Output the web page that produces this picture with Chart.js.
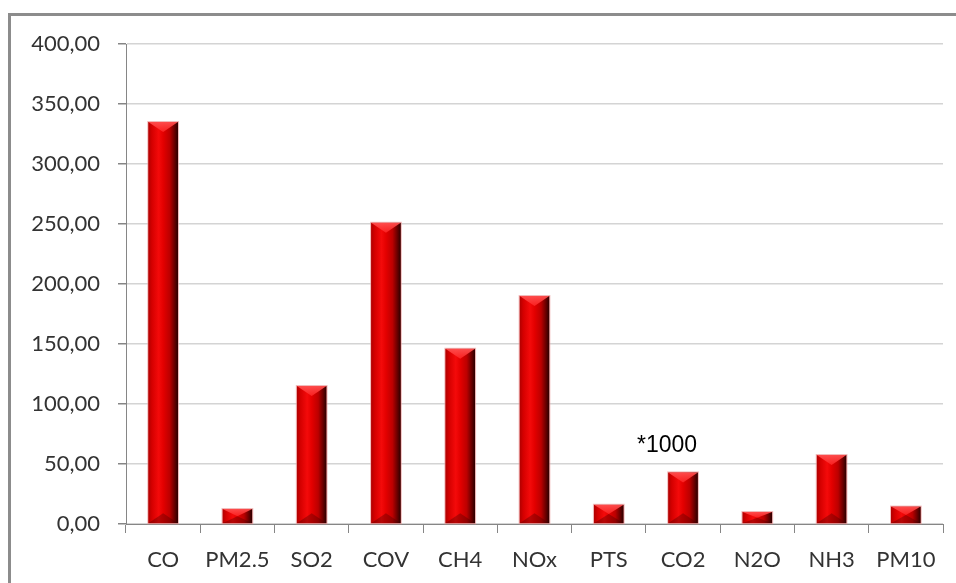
<!DOCTYPE html>
<html>
<head>
<meta charset="utf-8">
<script src="https://cdn.jsdelivr.net/npm/chart.js@4.4.1/dist/chart.umd.min.js"></script>
<style>
    html, body { margin: 0; padding: 0; background: #fff; overflow: hidden; }
    #chart { display: block; }
</style>
</head>
<body>
<canvas id="chart" width="956" height="583"></canvas>
<script>
// Données
const categories = ['CO', 'PM2.5', 'SO2', 'COV', 'CH4', 'NOx', 'PTS', 'CO2', 'N2O', 'NH3', 'PM10'];
const emissions  = [335, 12.5, 115, 251, 146, 190, 16, 43, 10, 57.5, 14.5];
const yTicks     = [0, 50, 100, 150, 200, 250, 300, 350, 400];
const noteText   = '*1000';
const noteIndex  = 7;   // au-dessus de CO2
const noteValue  = 60;

const AXIS_GREY = '#868686';
const GRID_GREY = '#d4d4d4';
const LABEL_FONT = "Lato, 'Open Sans', sans-serif";

/**
 * Cadre gris du graphique (bords gauche et haut, le reste sort de l'image)
 */
const frame = {
    id: 'frame',
    beforeDraw(chart) {
        const ctx = chart.ctx;
        ctx.save();
        ctx.strokeStyle = '#8c8c8c';
        ctx.lineWidth = 3;
        ctx.beginPath();
        ctx.moveTo(9.5, chart.height);
        ctx.lineTo(9.5, 14.5);
        ctx.lineTo(chart.width, 14.5);
        ctx.stroke();
        ctx.restore();
    }
};

/**
 * Relief "3D" des barres : dégradé horizontal + biseaux haut et bas
 */
const bevelBars = {
    id: 'bevelBars',
    afterDatasetsDraw(chart) {
        const ctx = chart.ctx;
        const meta = chart.getDatasetMeta(0);
        ctx.save();
        meta.data.forEach(bar => {
            const p = bar.getProps(['x', 'y', 'base', 'width'], true);
            const left = p.x - p.width / 2;
            const right = p.x + p.width / 2;
            const top = Math.min(p.y, p.base);
            const bottom = Math.max(p.y, p.base);
            const h = bottom - top;

            // corps cylindrique
            const g = ctx.createLinearGradient(left, 0, right, 0);
            g.addColorStop(0, '#b00000');
            g.addColorStop(0.12, '#d40000');
            g.addColorStop(0.35, '#f40a0a');
            g.addColorStop(0.5, '#e40000');
            g.addColorStop(0.72, '#bc0000');
            g.addColorStop(0.88, '#6a0000');
            g.addColorStop(1, '#2a0000');
            ctx.fillStyle = g;
            ctx.fillRect(left, top, p.width, h);

            const cap = Math.min(10, h / 2);

            // biseau supérieur (plus clair)
            const gt = ctx.createLinearGradient(0, top, 0, top + cap);
            gt.addColorStop(0, 'rgba(255,80,80,0.95)');
            gt.addColorStop(1, 'rgba(255,40,40,0.8)');
            ctx.fillStyle = gt;
            ctx.beginPath();
            ctx.moveTo(left, top);
            ctx.lineTo(right, top);
            ctx.lineTo(p.x, top + cap);
            ctx.closePath();
            ctx.fill();

            // biseau inférieur (plus sombre)
            ctx.fillStyle = 'rgba(70,0,0,0.35)';
            ctx.beginPath();
            ctx.moveTo(left, bottom);
            ctx.lineTo(right, bottom);
            ctx.lineTo(p.x, bottom - cap);
            ctx.closePath();
            ctx.fill();

            // liseré clair
            ctx.strokeStyle = 'rgba(235,160,160,0.7)';
            ctx.lineWidth = 1;
            ctx.strokeRect(left - 0.5, top - 0.5, p.width + 1, h + 1);
        });
        ctx.restore();
    }
};

/**
 * Annotation "*1000" au-dessus de CO2
 */
const noteLabel = {
    id: 'noteLabel',
    afterDraw(chart) {
        const ctx = chart.ctx;
        const x = chart.scales.x.getPixelForValue(noteIndex) - 16;
        const y = chart.scales.y.getPixelForValue(noteValue);
        ctx.save();
        ctx.font = "23px 'Liberation Sans', Arial, sans-serif";
        ctx.fillStyle = '#000';
        ctx.textAlign = 'center';
        ctx.textBaseline = 'alphabetic';
        ctx.fillText(noteText, x, y);
        ctx.restore();
    }
};

new Chart(document.getElementById('chart'), {
    type: 'bar',
    data: {
        labels: categories,
        datasets: [{
            data: emissions,
            backgroundColor: '#c00000',
            borderWidth: 0,
            barPercentage: 0.4,
            categoryPercentage: 1
        }]
    },
    options: {
        responsive: false,
        animation: false,
        devicePixelRatio: 1,
        layout: { padding: { left: 10, top: 44, right: 13, bottom: 0 } },
        plugins: {
            legend: { display: false },
            title: { display: false },
            tooltip: { enabled: false }
        },
        scales: {
            x: {
                afterFit: s => { s.height = 59; },
                border: { color: AXIS_GREY, width: 1 },
                grid: {
                    offset: true,
                    drawOnChartArea: false,
                    drawTicks: true,
                    tickLength: 9,
                    tickColor: AXIS_GREY
                },
                ticks: {
                    color: '#333333',
                    padding: 14,
                    font: { family: LABEL_FONT, size: 22 },
                    maxRotation: 0,
                    autoSkip: false
                }
            },
            y: {
                min: 0,
                max: 400,
                afterFit: s => { s.width = 116; },
                afterBuildTicks: s => { s.ticks = yTicks.map(v => ({ value: v })); },
                border: { color: AXIS_GREY, width: 1 },
                grid: {
                    color: GRID_GREY,
                    lineWidth: 1.5,
                    drawTicks: true,
                    tickLength: 8,
                    tickColor: AXIS_GREY
                },
                ticks: {
                    color: '#333333',
                    padding: 18,
                    font: { family: LABEL_FONT, size: 22 },
                    callback: v => v.toFixed(2).replace('.', ',')
                }
            }
        }
    },
    plugins: [frame, bevelBars, noteLabel]
});
</script>
</body>
</html>
